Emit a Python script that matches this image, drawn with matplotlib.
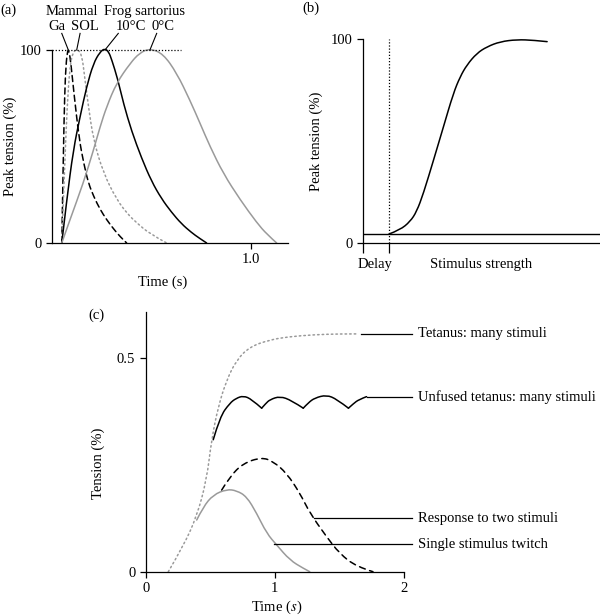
import numpy as np
import matplotlib
matplotlib.use("Agg")
from matplotlib import pyplot as plt
from matplotlib.path import Path
from matplotlib.patches import PathPatch

plt.rcParams["font.family"] = ["Liberation Serif", "DejaVu Serif"]
plt.rcParams["mathtext.fontset"] = "stix"
plt.rcParams["font.size"] = 10.5

#%% data (a): twitch time courses, % of peak tension
ga_t = [0.049, 0.054, 0.060, 0.067, 0.077, 0.085, 0.095, 0.11, 0.137, 0.16, 0.183, 0.21, 0.241, 0.275, 0.308, 0.34, 0.375]
ga_v = [0, 27.6, 62, 88, 99.6, 100, 93, 77.7, 53.5, 41, 31, 24, 17.5, 12, 7.5, 3.5, 0]

sol_t = [0.049, 0.062, 0.076, 0.09, 0.105, 0.128, 0.15, 0.164, 0.183, 0.208, 0.258, 0.325, 0.38, 0.426, 0.492, 0.576]
sol_v = [0, 36, 71, 91.5, 99, 100.5, 97.6, 86, 70.8, 53.5, 36.3, 22.5, 15, 10.4, 4.7, 0]

f10_t = [0.049, 0.074, 0.107, 0.141, 0.174, 0.208, 0.241, 0.266, 0.285, 0.30, 0.33, 0.36, 0.40, 0.45, 0.50, 0.55, 0.60, 0.65, 0.70, 0.74, 0.777]
f10_v = [0, 22.3, 48.2, 65.5, 81, 93, 99, 100.8, 99, 95, 85, 72, 58, 44, 32, 23, 16, 10, 5.5, 2.5, 0]

f0_t = [0.049, 0.09, 0.157, 0.208, 0.241, 0.275, 0.325, 0.392, 0.44, 0.492, 0.559, 0.627, 0.693, 0.744, 0.794, 0.861, 0.945, 1.03, 1.08, 1.129]
f0_v = [0, 12, 31, 48, 60, 70.8, 83, 93, 98.5, 100.8, 98, 88, 74, 62, 50, 36, 22.5, 10.4, 4.5, 0]

#%% data (b): peak tension vs stimulus strength
stim = [1.0, 1.42, 1.81, 2.06, 2.32, 2.71, 3.09, 3.47, 3.73, 3.99, 4.37, 4.76, 5.27, 5.91, 6.55, 7.07]
peak = [4.4, 6.4, 10.5, 15.4, 24.3, 40.7, 57, 73.4, 81.5, 87.3, 93, 96.2, 98.7, 99.7, 99.4, 98.7]
threshold = 4.4
delay = 1.0

#%% data (c): summation and tetanus
tet_t = [0.175, 0.29, 0.395, 0.472, 0.51, 0.562, 0.627, 0.704, 0.807, 0.962, 1.10, 1.30, 1.50, 1.65]
tet_v = [0, 0.059, 0.129, 0.215, 0.309, 0.387, 0.449, 0.496, 0.527, 0.543, 0.550, 0.555, 0.557, 0.557]

# troughs of the unfused tetanus are sharp, so the curve is drawn piece by piece
unf_t = [0.523, 0.575, 0.652, 0.70, 0.756, 0.82, 0.898, 0.93, 0.962, 1.04, 1.13, 1.22, 1.26, 1.31, 1.40, 1.48, 1.57, 1.61, 1.65, 1.71]
unf_v = [0.309, 0.363, 0.395, 0.406, 0.412, 0.404, 0.383, 0.394, 0.403, 0.411, 0.401, 0.383, 0.396, 0.407, 0.414, 0.404, 0.383, 0.394, 0.403, 0.41]
unf_breaks = [0, 6, 11, 16, 19]

two_t = [0.588, 0.652, 0.756, 0.898, 0.988, 1.091, 1.194, 1.272, 1.40, 1.50, 1.63, 1.76]
two_v = [0.191, 0.223, 0.254, 0.268, 0.258, 0.231, 0.184, 0.137, 0.082, 0.043, 0.012, 0]

one_t = [0.395, 0.446, 0.523, 0.627, 0.704, 0.782, 0.859, 0.937, 1.014, 1.117, 1.22, 1.27]
one_v = [0.121, 0.152, 0.18, 0.193, 0.19, 0.176, 0.137, 0.09, 0.0626, 0.027, 0.008, 0]

labels_c = ["Tetanus: many stimuli", "Unfused tetanus: many stimuli",
            "Response to two stimuli", "Single stimulus twitch"]
leader_start = [(1.67, 0.557), (1.71, 0.41), (1.306, 0.125), (0.993, 0.064)]

GREY = "#9a9a9a"
LW = 1.1

fig = plt.figure(figsize=(6, 6.15), dpi=100)


def smooth(ax, x, y, **kw):
    # quadratic bezier path through the read points (points act as control points)
    pts = list(zip(x, y))
    verts = [pts[0]]
    codes = [Path.MOVETO]
    n = len(pts)
    if n == 2:
        verts.append(pts[1])
        codes.append(Path.LINETO)
    for i in range(1, n - 1):
        end = pts[n - 1] if i == n - 2 else ((pts[i][0] + pts[i + 1][0]) / 2, (pts[i][1] + pts[i + 1][1]) / 2)
        verts += [pts[i], end]
        codes += [Path.CURVE3, Path.CURVE3]
    patch = PathPatch(Path(verts, codes), fill=False, clip_on=False, capstyle="round", **kw)
    ax.add_patch(patch)
    return patch


def style(ax):
    for s in ["top", "right"]:
        ax.spines[s].set_visible(False)
    for s in ["left", "bottom"]:
        ax.spines[s].set_linewidth(0.9)
    ax.tick_params(direction="out", length=4, width=0.9, labelsize=10.5)


#%% (a)
ax1 = fig.add_axes([0.0867, 0.6049, 0.3933, 0.3138])
smooth(ax1, ga_t, ga_v, edgecolor="black", lw=LW, ls=(0, (4, 2.5)))
smooth(ax1, sol_t, sol_v, edgecolor=GREY, lw=LW, ls=(0, (1, 2)))
smooth(ax1, f10_t, f10_v, edgecolor="black", lw=LW)
smooth(ax1, f0_t, f0_v, edgecolor=GREY, lw=LW)
ax1.plot([0, 0.65], [100, 100], color="black", lw=0.9, ls=(0, (1, 1.5)), clip_on=False)
ax1.set_xlim(0, 1.186)
ax1.set_ylim(0, 100)
ax1.set_xticks([1.0])
ax1.set_xticklabels(["1.0"])
ax1.set_yticks([0, 100])
style(ax1)
ax1.set_ylabel("Peak tension (%)", va="center")
ax1.yaxis.set_label_coords(-0.178, 0.5)
ax1.set_xlabel("Time (s)", va="center")
ax1.xaxis.set_label_coords(0.47, -0.202)
ax1.text(0.10, 119.7, "Mammal", ha="center", va="center")
ax1.text(0.467, 119.7, "Frog sartorius", ha="center", va="center")
ax1.text(0.025, 112, "Ga", ha="center", va="center")
ax1.text(0.166, 112, "SOL", ha="center", va="center")
ax1.text(0.395, 112, "10°C", ha="center", va="center")
ax1.text(0.556, 112, "0°C", ha="center", va="center")
for (x0, y0), (x1, y1) in [((0.049, 108.6), (0.082, 100)), ((0.141, 108.6), (0.124, 100)),
                           ((0.333, 108.6), (0.266, 100)), ((0.526, 108.6), (0.492, 100))]:
    ax1.plot([x0, x1], [y0, y1], color="black", lw=0.8, clip_on=False)

#%% (b)
ax2 = fig.add_axes([0.605, 0.6049, 0.395, 0.3317])
smooth(ax2, stim, peak, edgecolor="black", lw=LW)
ax2.axhline(threshold, color="black", lw=1.0)
ax2.plot([delay, delay], [0, 100], color="black", lw=0.9, ls=(0, (1, 1.5)))
ax2.set_xlim(0, 9.1)
ax2.set_ylim(0, 100)
ax2.set_xticks([0, delay])
ax2.set_xticklabels(["", ""])
ax2.set_yticks([0, 100])
style(ax2)
ax2.tick_params(axis="x", length=7)
ax2.set_ylabel("Peak tension (%)", va="center")
ax2.yaxis.set_label_coords(-0.198, 0.5)
ax2.text(0.46, -10.5, "Delay", ha="center", va="center")
ax2.text(4.54, -10.5, "Stimulus strength", ha="center", va="center")

#%% (c)
ax3 = fig.add_axes([0.2428, 0.0704, 0.4305, 0.4228])
smooth(ax3, tet_t, tet_v, edgecolor=GREY, lw=LW, ls=(0, (1, 2)))
for a, b in zip(unf_breaks[:-1], unf_breaks[1:]):
    smooth(ax3, unf_t[a:b + 1], unf_v[a:b + 1], edgecolor="black", lw=LW)
smooth(ax3, two_t, two_v, edgecolor="black", lw=LW, ls=(0, (4, 3)))
smooth(ax3, one_t, one_v, edgecolor=GREY, lw=LW)
for (x0, y0), lab in zip(leader_start, labels_c):
    ax3.plot([x0, 2.06], [y0, y0], color="black", lw=0.9, clip_on=False)
    ax3.text(2.107, y0, lab, ha="left", va="center")
ax3.set_xlim(0, 2)
ax3.set_ylim(0, 0.609)
ax3.set_xticks([0, 1, 2])
ax3.set_yticks([0, 0.5])
ax3.set_yticklabels(["0", "0.5"])
style(ax3)
ax3.set_ylabel("Tension (%)", va="center")
ax3.yaxis.set_label_coords(-0.185, 0.418)
ax3.set_xlabel(r"Time ($\it{s}$)", va="center")
ax3.xaxis.set_label_coords(0.508, -0.136)

fig.text(0.0, 1 - 10 / 615, "(a)", va="center", ha="left")
fig.text(302 / 600, 1 - 8 / 615, "(b)", va="center", ha="left")
fig.text(88 / 600, 1 - 315 / 615, "(c)", va="center", ha="left")

fig.savefig("out.png", dpi=100)
